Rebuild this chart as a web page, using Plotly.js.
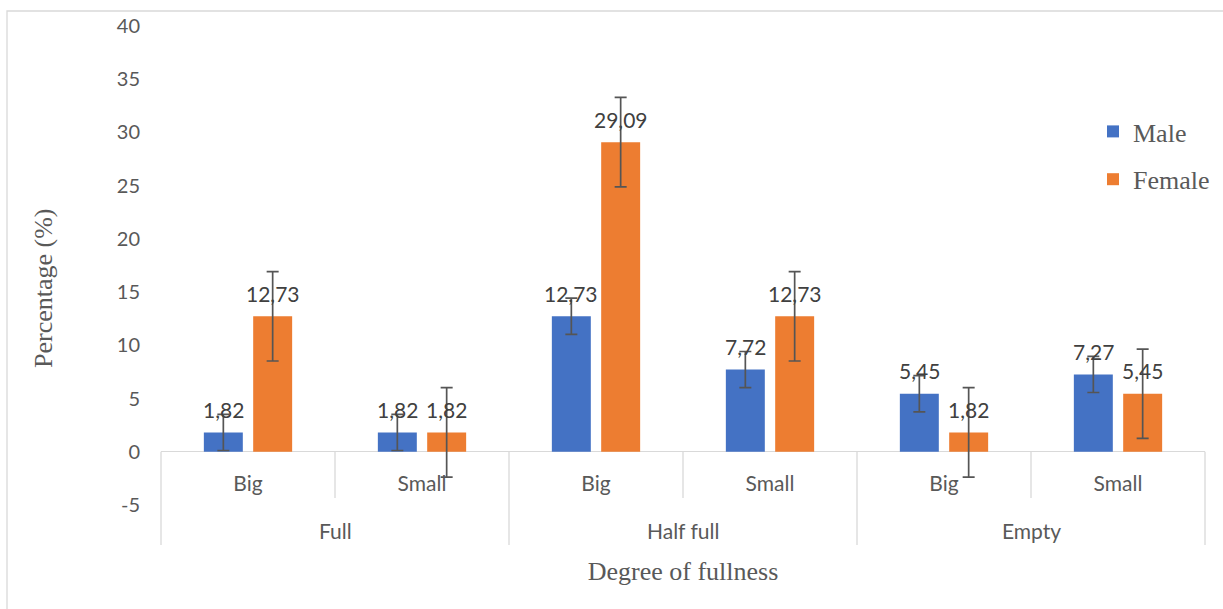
<!DOCTYPE html>
<html>
<head>
<meta charset="utf-8">
<script src="https://cdn.plot.ly/plotly-3.0.1.min.js"></script>
<style>html,body{margin:0;padding:0;background:#fff;overflow:hidden;}#chart{width:1223px;height:609px;}</style>
</head>
<body>
<div id="chart"></div>
<script>
// ---- data ----
const groups = ['Full', 'Full', 'Half full', 'Half full', 'Empty', 'Empty'];
const sizes = ['Big', 'Small', 'Big', 'Small', 'Big', 'Small'];
const male = [1.82, 1.82, 12.73, 7.72, 5.45, 7.27];
const female = [12.73, 1.82, 29.09, 12.73, 1.82, 5.45];
const maleErr = [1.7, 1.7, 1.7, 1.7, 1.7, 1.7];
const femaleErr = [4.2, 4.2, 4.2, 4.2, 4.2, 4.2];
const yTicks = [-5, 0, 5, 10, 15, 20, 25, 30, 35, 40];
const seriesNames = ['Male', 'Female'];
const yTitle = 'Percentage (%)';
const xTitle = 'Degree of fullness';

// ---- layout helpers ----
const W = 1223, H = 609;
const M = {l: 161, r: 18, t: 26, b: 104, autoexpand: false};
const plotH = H - M.t - M.b;
const yMin = -5, yMax = 40;
const py = p => (H - M.b - p) / plotH;           // pixel row -> paper y
const px = p => (p - M.l) / (W - M.l - M.r);      // pixel col -> paper x
const zeroPaper = (0 - yMin) / (yMax - yMin);
const BARGAP = 0.433, BARGROUPGAP = 0.21;

const xIdx = sizes.map((_, i) => i);
const fmt = v => v.toFixed(2).replace('.', ',');
const grey = '#595959';
const serif = 'Liberation Serif, Times New Roman, serif';
const sans = 'Lato, sans-serif';

const errStyle = {type: 'data', visible: true, color: '#555555', thickness: 1.7, width: 6};

const series = [
  {name: seriesNames[0], grp: 'm', y: male, err: maleErr, color: '#4472C4'},
  {name: seriesNames[1], grp: 'f', y: female, err: femaleErr, color: '#ED7D31'}
];

const traces = series.map(s => ({
  type: 'bar', name: s.name, legendgroup: s.grp, x: xIdx, y: s.y,
  marker: {color: s.color},
  error_y: Object.assign({array: s.err}, errStyle),
  cliponaxis: false, hoverinfo: 'y'
}));

// data labels (outside end), placed at each grouped bar's centre
const annotations = [];
const slot = (1 - BARGAP) / series.length;
series.forEach((s, k) => {
  const off = -(1 - BARGAP) / 2 + slot * (k + 0.5);
  s.y.forEach((v, i) => {
    annotations.push({xref: 'x', yref: 'y', x: xIdx[i] + off, y: v, text: fmt(v),
      showarrow: false, xanchor: 'center', yanchor: 'middle', yshift: 23,
      font: {family: sans, size: 21, color: '#404040'}});
  });
});

// dividers for the two-level category axis
const shapes = [];
const n = sizes.length;
for (let b = 0; b <= n; b++) {
  const isGroup = (b === 0 || b === n || groups[b] !== groups[b - 1]);
  shapes.push({type: 'line', xref: 'paper', yref: 'paper',
    x0: b / n, x1: b / n, y0: zeroPaper, y1: isGroup ? py(545) : py(498),
    line: {color: '#d9d9d9', width: 1.3}});
}
// chart frame
shapes.push({type: 'rect', xref: 'paper', yref: 'paper',
  x0: px(7), x1: px(1240), y0: py(630), y1: py(11),
  line: {color: '#d9d9d9', width: 1.3}, fillcolor: 'rgba(0,0,0,0)'});

// outer category labels
const uniq = [...new Set(groups)];
uniq.forEach(g => {
  const idx = xIdx.filter(i => groups[i] === g);
  const c = idx.reduce((a, b) => a + b, 0) / idx.length;
  annotations.push({xref: 'x', yref: 'paper', x: c, y: py(530), text: g,
    showarrow: false, xanchor: 'center', yanchor: 'middle',
    font: {family: sans, size: 21, color: grey}});
});

// y-axis title (centred over plot + category axis like the original)
annotations.push({xref: 'paper', yref: 'paper', x: px(43), y: py(288), text: yTitle,
  textangle: -90, showarrow: false, xanchor: 'center', yanchor: 'middle',
  font: {family: serif, size: 26, color: grey}});

const layout = {
  width: W, height: H,
  margin: M,
  paper_bgcolor: '#ffffff', plot_bgcolor: '#ffffff',
  barmode: 'group', bargap: BARGAP, bargroupgap: BARGROUPGAP,
  showlegend: true,
  legend: {x: px(1093), y: py(108), xanchor: 'left', yanchor: 'top',
    font: {family: serif, size: 26, color: grey},
    bgcolor: 'rgba(0,0,0,0)', tracegroupgap: 11, traceorder: 'grouped'},
  xaxis: {
    range: [-0.5, n - 0.5], anchor: 'free', position: zeroPaper,
    tickmode: 'array', tickvals: xIdx, ticktext: sizes,
    showline: false, showgrid: false, zeroline: false, ticks: '',
    ticklabelstandoff: 17, automargin: false,
    tickfont: {family: sans, size: 21, color: grey},
    title: {text: xTitle, standoff: 68,
      font: {family: serif, size: 26, color: grey}}
  },
  yaxis: {
    range: [yMin, yMax], tickmode: 'array', tickvals: yTicks,
    ticktext: yTicks.map(v => String(v)),
    showgrid: false, showline: false, ticks: '',
    zeroline: true, zerolinecolor: '#d9d9d9', zerolinewidth: 1.3,
    ticklabelstandoff: 20, automargin: false,
    tickfont: {family: sans, size: 20, color: grey}
  },
  shapes: shapes,
  annotations: annotations
};

Plotly.newPlot('chart', traces, layout, {displayModeBar: false, staticPlot: true});
</script>
</body>
</html>
